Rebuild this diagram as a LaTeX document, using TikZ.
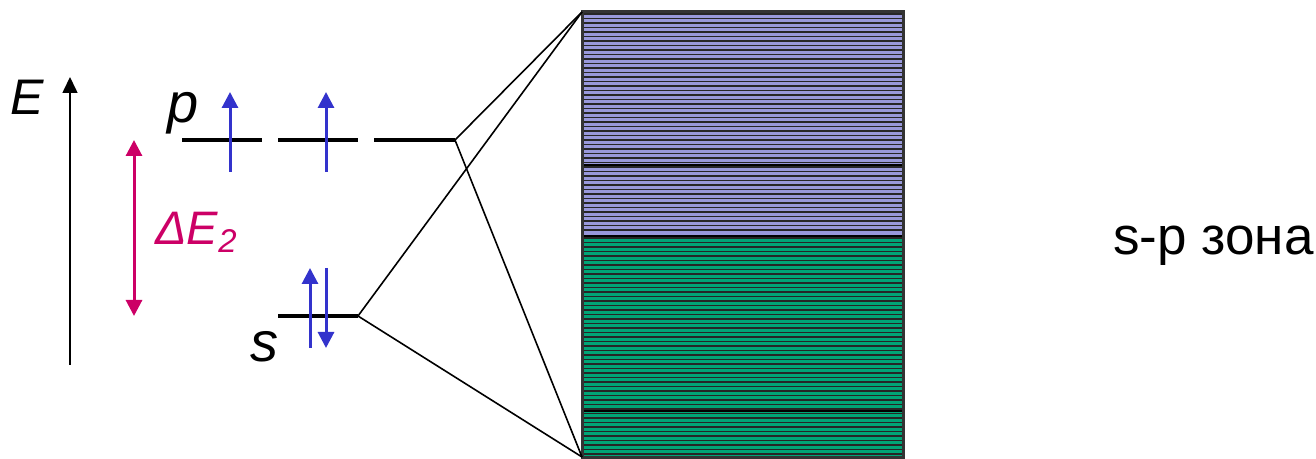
\documentclass[tikz,border=0pt]{standalone}
\usepackage{fontspec}
\setmainfont{Liberation Sans}
\usetikzlibrary{arrows.meta}

\definecolor{spinblue}{RGB}{51,51,204}
\definecolor{gapred}{RGB}{204,0,102}
\definecolor{bandlav}{RGB}{152,152,218}
\definecolor{bandgreen}{RGB}{0,165,118}

\begin{document}
\begin{tikzpicture}[
    x=0.5pt, y=-0.5pt,
    every node/.style={inner sep=0pt},
    level/.style={line width=1.7pt},
    spin/.style={spinblue, line width=1.5pt, -{Triangle[width=8pt,length=8pt]}},
    link/.style={line width=0.8pt},
    stripe/.style={line width=0.95pt, black!85}
]
\useasboundingbox (0,0) rectangle (1316,459);

% Energy axis
\coordinate (axisbot) at (70,365);
\coordinate (axistop) at (70,77);
\draw[line width=0.8pt, -{Triangle[width=7.5pt,length=8pt]}] (axisbot) -- (axistop);
\node[anchor=base west, font=\fontsize{25}{30}\selectfont\itshape] (elabel) at (10,115) {E};

% p levels
\node[anchor=base west, font=\fontsize{28}{33}\selectfont\itshape] (plabel) at (167,123) {p};
\coordinate (p1a) at (182,140); \coordinate (p1b) at (262,140);
\coordinate (p2a) at (278,140); \coordinate (p2b) at (358,140);
\coordinate (p3a) at (374,140); \coordinate (pend) at (455,140);
\draw[level] (p1a) -- (p1b);
\draw[level] (p2a) -- (p2b);
\draw[level] (p3a) -- (pend);

% s level
\node[anchor=base west, font=\fontsize{28}{33}\selectfont\itshape] (slabel) at (250,362) {s};
\coordinate (sa) at (278,316); \coordinate (send) at (358,316);
\draw[level] (sa) -- (send);

% Spins
\coordinate (pu1) at (230,172); \coordinate (pu1t) at (230,92);
\coordinate (pu2) at (326,172); \coordinate (pu2t) at (326,92);
\draw[spin] (pu1) -- (pu1t);
\draw[spin] (pu2) -- (pu2t);
\coordinate (su) at (310,348); \coordinate (sut) at (310,268);
\coordinate (sd) at (326,268); \coordinate (sdt) at (326,348);
\draw[spin] (su) -- (sut);
\draw[spin] (sd) -- (sdt);

% Gap
\coordinate (gaptop) at (134,140);
\coordinate (gapbot) at (134,316);
\draw[gapred, line width=1.5pt, {Triangle[width=8pt,length=8pt]}-{Triangle[width=8pt,length=8pt]}] (gapbot) -- (gaptop);
\node[anchor=base west, text=gapred, font=\fontsize{23.5}{28}\selectfont\itshape] (gaplabel) at (155,245) {ΔE\textsubscript{2}};

% Band
\fill[bandlav] (582,12) rectangle (903,236);
\fill[bandgreen] (582,236) rectangle (903,457);
\foreach \y in {14,18.5,...,234} \draw[stripe] (582,\y) -- (903,\y);
\foreach \y in {238,242.5,...,456} \draw[stripe] (582,\y) -- (903,\y);
\foreach \y in {165,236,411} \draw[stripe, black] (582,\y) -- (903,\y);
\draw[line width=1.5pt, black!80] (582,12) rectangle (903,457);
\coordinate (bandtop) at (582,12);
\coordinate (bandbot) at (582,457);

% Links to band
\draw[link] (pend) -- (bandtop);
\draw[link] (pend) -- (bandbot);
\draw[link] (send) -- (bandtop);
\draw[link] (send) -- (bandbot);

\node[anchor=base west, font=\fontsize{26.5}{31}\selectfont] (bandlabel) at (1113,255) {s-p зона};
\end{tikzpicture}
\end{document}
